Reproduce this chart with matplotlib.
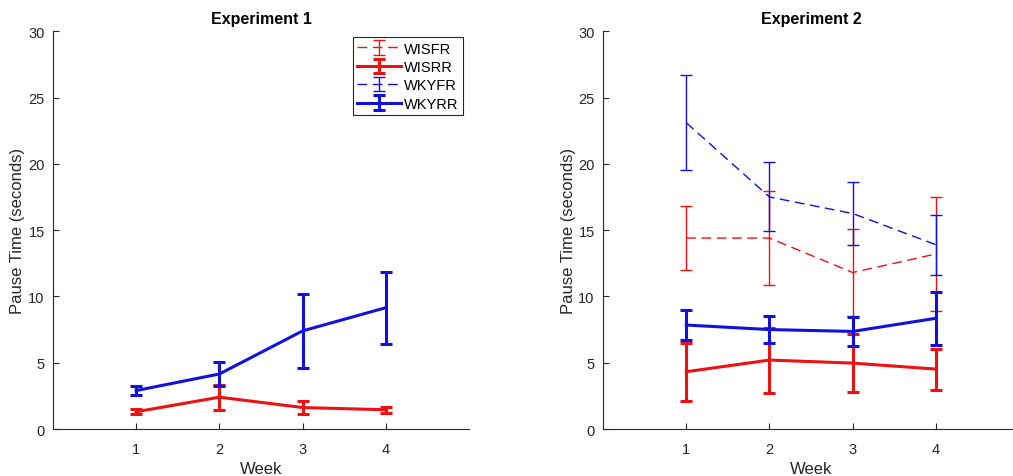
import numpy as np
import matplotlib
matplotlib.use("Agg")
import matplotlib.pyplot as plt

plt.rcParams['font.family'] = ['Liberation Sans', 'DejaVu Sans']

weeks = [1, 2, 3, 4]

# Experiment 1
exp1_wisrr = [1.3, 2.4, 1.62, 1.45]
exp1_wisrr_err = [0.2, 0.95, 0.47, 0.22]
exp1_wkyrr = [2.9, 4.15, 7.4, 9.15]
exp1_wkyrr_err = [0.33, 0.9, 2.8, 2.72]

# Experiment 2
exp2_wisfr = [14.4, 14.4, 11.8, 13.2]
exp2_wisfr_err = [2.4, 3.55, 3.25, 4.3]
exp2_wisrr = [4.32, 5.2, 4.97, 4.52]
exp2_wisrr_err = [2.2, 2.45, 2.16, 1.55]
exp2_wkyfr = [23.1, 17.5, 16.25, 13.9]
exp2_wkyfr_err = [3.6, 2.6, 2.4, 2.25]
exp2_wkyrr = [7.84, 7.5, 7.36, 8.35]
exp2_wkyrr_err = [1.1, 1.05, 1.1, 2.0]

red = '#ee1111'
blue = '#1111dd'
gray = '#262626'

fig = plt.figure(figsize=(10.13, 4.77), dpi=100)
ax1 = fig.add_axes([0.0523, 0.0985, 0.4107, 0.834])
ax2 = fig.add_axes([0.5953, 0.0985, 0.4107, 0.834])

def thin(ax, y, e, c, label=None):
	ax.errorbar(weeks, y, yerr=e, color=c, lw=1.0, ls=(0, (7, 4)), elinewidth=1.0,
		capsize=4, capthick=1.0, label=label)

def thick(ax, y, e, c, label=None):
	ax.errorbar(weeks, y, yerr=e, color=c, lw=2.2, elinewidth=2.2,
		capsize=4, capthick=2.2, label=label)

# exp 1 (fast-rate series have no data, just legend entries)
thin(ax1, [np.nan]*4, [0]*4, red, 'WISFR')
thick(ax1, exp1_wisrr, exp1_wisrr_err, red, 'WISRR')
thin(ax1, [np.nan]*4, [0]*4, blue, 'WKYFR')
thick(ax1, exp1_wkyrr, exp1_wkyrr_err, blue, 'WKYRR')

thin(ax2, exp2_wisfr, exp2_wisfr_err, red)
thick(ax2, exp2_wisrr, exp2_wisrr_err, red)
thin(ax2, exp2_wkyfr, exp2_wkyfr_err, blue)
thick(ax2, exp2_wkyrr, exp2_wkyrr_err, blue)

for ax, title in [(ax1, 'Experiment 1'), (ax2, 'Experiment 2')]:
	ax.set_xlim(0, 5)
	ax.set_ylim(0, 30)
	ax.set_xticks(weeks)
	ax.set_yticks(range(0, 31, 5))
	ax.spines['top'].set_visible(False)
	ax.spines['right'].set_visible(False)
	for s in ['left', 'bottom']:
		ax.spines[s].set_color(gray)
		ax.spines[s].set_linewidth(0.8)
	ax.tick_params(direction='in', length=4, width=0.8, colors=gray, labelsize=10.5)
	ax.tick_params(axis='x', pad=9)
	ax.tick_params(axis='y', pad=6)
	ax.set_xlabel('Week', fontsize=12, color=gray, labelpad=4)
	ax.set_ylabel('Pause Time (seconds)', fontsize=12, color=gray, labelpad=2)
	ax.set_title(title, fontsize=11.5, fontweight='bold', pad=6)

leg = ax1.legend(loc='upper right', bbox_to_anchor=(0.985, 0.985), fontsize=10.5,
	handlelength=3.0, handletextpad=0.2, borderpad=0.3, labelspacing=0.3,
	borderaxespad=0.0, fancybox=False, edgecolor=gray, framealpha=1)
leg.get_frame().set_linewidth(0.8)

fig.savefig('out.png', dpi=100)
